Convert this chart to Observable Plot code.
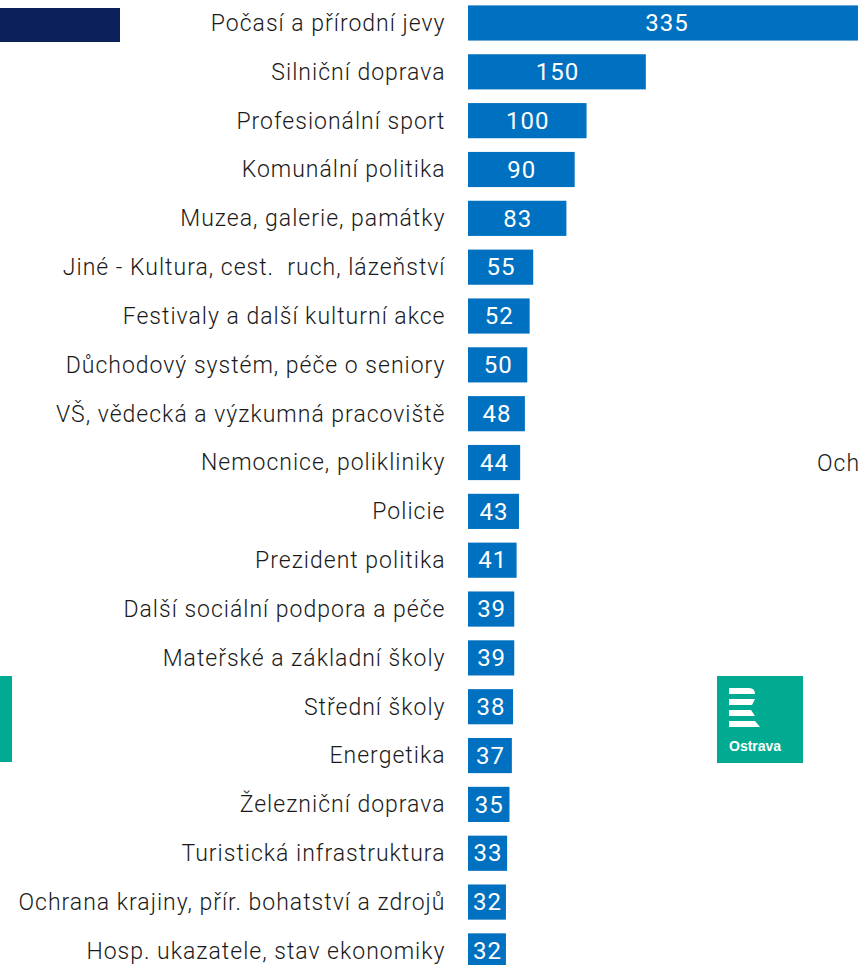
<!DOCTYPE html>
<html>
<head>
<meta charset="utf-8">
<script src="https://cdn.jsdelivr.net/npm/d3@7"></script>
<script src="https://cdn.jsdelivr.net/npm/@observablehq/plot@0.6"></script>
<style>
  html, body { margin: 0; padding: 0; background: #fff; overflow: hidden; width: 858px; height: 965px; }
  #wrap { position: relative; width: 858px; height: 965px; overflow: hidden; }
  #chart svg { overflow: visible; display: block; }
  .deco { position: absolute; }
  .och { position: absolute; left: 817px; top: 450px; font-family: Roboto, sans-serif; font-weight: 300; font-size: 23px; color: #1a1a1a; letter-spacing: 1px; }
</style>
</head>
<body>
<div id="wrap">
  <div id="chart"></div>
  <div class="deco" style="left:0;top:8px;width:120px;height:34px;background:#0c2159;"></div>
  <div class="deco" style="left:0;top:676px;width:12px;height:86px;background:#00ab91;"></div>
  <svg class="deco" style="left:717px;top:676px;" width="86" height="87" viewBox="0 0 86 87">
    <rect width="86" height="87" fill="#00ab91"/>
    <path d="M12 12 H32 Q38 12 38 18 H12 Z" fill="#fff"/>
    <path d="M12 23 H38 L35 29 H12 Z" fill="#fff"/>
    <path d="M12 34 H34 L38 40 H12 Z" fill="#fff"/>
    <path d="M12 45 H38 L43 51 H12 Z" fill="#fff"/>
    <text x="12" y="75" fill="#fff" font-family="Liberation Sans, Arial, sans-serif" font-weight="bold" font-size="14">Ostrava</text>
  </svg>
  <div class="och">Och</div>
</div>
<script>
const categories = [
  "Počasí a přírodní jevy",
  "Silniční doprava",
  "Profesionální sport",
  "Komunální politika",
  "Muzea, galerie, památky",
  "Jiné - Kultura, cest.  ruch, lázeňství",
  "Festivaly a další kulturní akce",
  "Důchodový systém, péče o seniory",
  "VŠ, vědecká a výzkumná pracoviště",
  "Nemocnice, polikliniky",
  "Policie",
  "Prezident politika",
  "Další sociální podpora a péče",
  "Mateřské a základní školy",
  "Střední školy",
  "Energetika",
  "Železniční doprava",
  "Turistická infrastruktura",
  "Ochrana krajiny, přír. bohatství a zdrojů",
  "Hosp. ukazatele, stav ekonomiky"
];
const values = [335, 150, 100, 90, 83, 55, 52, 50, 48, 44, 43, 41, 39, 39, 38, 37, 35, 33, 32, 32];

const data = categories.map((c, i) => ({category: c, value: values[i]}));

const chart = Plot.plot({
  width: 858,
  height: 965,
  marginLeft: 468,
  marginRight: 0,
  marginTop: 0,
  marginBottom: 0,
  x: {domain: [0, 329], axis: null},
  y: {domain: categories, range: [5.4, 968.5], paddingInner: 0.28, paddingOuter: 0, round: false, axis: null},
  style: {background: "transparent", overflow: "visible"},
  marks: [
    Plot.barX(data, {x: "value", y: "category", fill: "#0070c0"}),
    Plot.text(data, {
      x: 0, y: "category", text: "category", textAnchor: "end", dx: -23,
      fill: "#1a1a1a", fontSize: 23, fontWeight: 300, fontFamily: "Roboto, sans-serif"
    }),
    Plot.text(data, {
      x: d => d.value / 2, y: "category", text: d => String(d.value),
      fill: "white", fontSize: 24, fontWeight: 400, fontFamily: "Roboto, sans-serif"
    })
  ]
});
chart.querySelectorAll("text").forEach(t => t.style.letterSpacing = "1px");
document.getElementById("chart").appendChild(chart);
</script>
</body>
</html>
